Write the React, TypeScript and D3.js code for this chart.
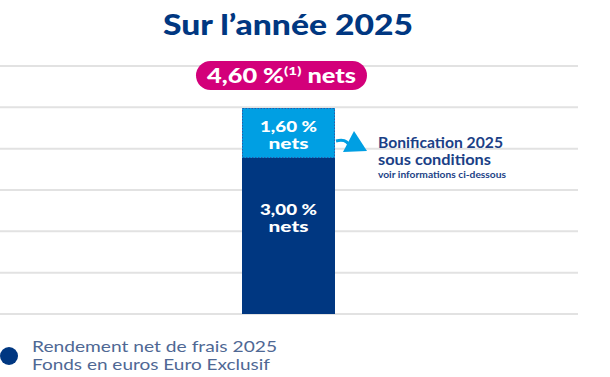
import React from "react";
import * as d3 from "d3";

const title = "Sur l’année 2025";
const segments = ["Rendement", "Bonification"];
const segmentValues = [3.0, 1.6];
const segmentLabels = ["3,00 %", "1,60 %"];
const totalLabel = "4,60 %";
const gridLines = [0, 1, 2, 3, 4, 5, 6];
const annotationLines = ["Bonification 2025", "sous conditions", "voir informations ci-dessous"];
const legendLines = ["Rendement net de frais 2025", "Fonds en euros Euro Exclusif"];

const W = 610;
const H = 377;
const DARK = "#003781";
const LIGHT = "#009fe3";
const PINK = "#d3007a";
const TEXTBLUE = "#1b3f86";
const FONT = "Lato, 'Open Sans', sans-serif";

export default function App() {
  const total = d3.sum(segmentValues);
  const gridY = d3.scaleLinear().domain([0, 6]).range([66, 314]);
  // the reference is not drawn to linear proportion: polylinear scale
  const y = d3.scaleLinear().domain([0, segmentValues[0], total]).range([314, 158, 108]);
  const bw = 93;
  const bx = 242;
  const stack = d3.stack<any>().keys(segments)([{ Rendement: segmentValues[0], Bonification: segmentValues[1] }]);
  const cx = bx + bw / 2;

  const arrowPath = d3.path();
  arrowPath.moveTo(bx + bw + 1, 141);
  arrowPath.quadraticCurveTo(bx + bw + 12, 138, bx + bw + 15, 147);

  const labelY = [
    [215, 232],
    [132, 149],
  ];

  return (
    <div style={{ position: "absolute", left: 0, top: 0 }}>
      <svg width={W} height={H} style={{ display: "block" }}>
        <rect width={W} height={H} fill="#fff" />
        <text x={163} y={35} fontFamily={FONT} fontWeight={900} fontSize={28} fill={DARK} textLength={250} lengthAdjust="spacingAndGlyphs">
          {title}
        </text>
        {gridLines.map((g) => (
          <line key={g} x1={0} x2={578} y1={gridY(g)} y2={gridY(g)} stroke="#e2e2e2" strokeWidth={2} />
        ))}
        {stack.map((s, i) => {
          const d = s[0];
          const top = y(d[1]);
          const bot = y(d[0]);
          return (
            <g key={s.key}>
              <rect x={bx} y={top} width={bw} height={bot - top} fill={i === 0 ? DARK : LIGHT} />
              {i === 1 && (
                <rect x={bx + 0.5} y={top + 0.5} width={bw - 1} height={bot - top - 1} fill="none" stroke="#2a5aa8" strokeWidth={1} strokeDasharray="1.5 1.5" />
              )}
              <text x={cx} y={labelY[i][0]} textAnchor="middle" fontFamily={FONT} fontWeight={900} fontSize={15.5} fill="#fff" textLength={57} lengthAdjust="spacingAndGlyphs">
                {segmentLabels[i]}
              </text>
              <text x={cx} y={labelY[i][1]} textAnchor="middle" fontFamily={FONT} fontWeight={900} fontSize={15.5} fill="#fff" textLength={40} lengthAdjust="spacingAndGlyphs">
                nets
              </text>
            </g>
          );
        })}
        <rect x={196} y={61} width={171} height={29} rx={14.5} fill={PINK} />
        <text x={207} y={83} fontFamily={FONT} fontWeight={900} fontSize={20} fill="#fff" textLength={149} lengthAdjust="spacingAndGlyphs">
          {totalLabel}
          <tspan fontSize={12} dy={-8}>(1)</tspan>
          <tspan dy={8}> nets</tspan>
        </text>
        <path d={arrowPath.toString()} fill="none" stroke={LIGHT} strokeWidth={3} />
        <path d="M354,131 L343,152 L367,151 Z" fill={LIGHT} />
        <text x={378} y={148} fontSize={14.5} fontWeight={700} fontFamily={FONT} fill={TEXTBLUE} textLength={125} lengthAdjust="spacingAndGlyphs">{annotationLines[0]}</text>
        <text x={378} y={165} fontSize={14.5} fontWeight={700} fontFamily={FONT} fill={TEXTBLUE} textLength={113} lengthAdjust="spacingAndGlyphs">{annotationLines[1]}</text>
        <text x={378} y={178} fontSize={8.5} fontWeight={700} fontFamily={FONT} fill={TEXTBLUE} textLength={128} lengthAdjust="spacingAndGlyphs">{annotationLines[2]}</text>
        <circle cx={9} cy={356} r={9} fill={DARK} />
        <text x={32} y={352} fontFamily={FONT} fill="#4f6894" fontSize={16} textLength={245} lengthAdjust="spacingAndGlyphs">{legendLines[0]}</text>
        <text x={32} y={370} fontFamily={FONT} fill="#4f6894" fontSize={16} textLength={238} lengthAdjust="spacingAndGlyphs">{legendLines[1]}</text>
      </svg>
    </div>
  );
}
